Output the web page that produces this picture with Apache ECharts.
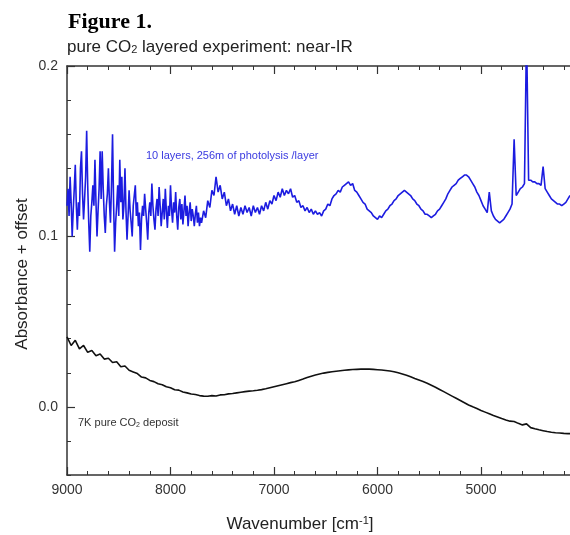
<!DOCTYPE html>
<html>
<head>
<meta charset="utf-8">
<script src="https://cdn.jsdelivr.net/npm/echarts@6/dist/echarts.min.js"></script>
<style>
  html, body { margin: 0; padding: 0; background: #fff; }
  #chart { width: 570px; height: 535px; }
</style>
</head>
<body>
<div id="chart"></div>
<script>
// ---- data ----
// wavenumber sampling of each trace piece: start and spacing (cm^-1)
const noisyStart = 9000, noisyStep = 10;     // blue trace, 9000..7700
const smoothStart = 7680, smoothStep = 20;   // blue trace, 7680..4140
const depositStart = 9000, depositStep = 40; // black trace

// blue trace (10 layers, 256m of photolysis /layer), noisy short-wave part
const layeredNoisyAbs = [
  0.118,0.128,0.112,0.135,0.120,0.100,0.115,0.128,0.142,0.118,
  0.104,0.120,0.112,0.140,0.150,0.125,0.110,0.122,0.135,0.162,
  0.130,0.108,0.091,0.112,0.120,0.130,0.118,0.145,0.120,0.100,
  0.115,0.128,0.150,0.122,0.150,0.128,0.112,0.102,0.118,0.125,
  0.140,0.120,0.108,0.130,0.160,0.120,0.091,0.108,0.118,0.130,
  0.112,0.145,0.120,0.135,0.110,0.118,0.140,0.115,0.098,0.112,
  0.127,0.115,0.108,0.100,0.118,0.124,0.130,0.112,0.120,0.106,
  0.114,0.092,0.110,0.118,0.112,0.125,0.116,0.108,0.098,0.114,
  0.120,0.112,0.131,0.118,0.110,0.104,0.116,0.122,0.112,0.129,
  0.118,0.106,0.114,0.122,0.110,0.128,0.115,0.105,0.118,0.112,
  0.130,0.116,0.108,0.120,0.114,0.126,0.112,0.104,0.117,0.122,
  0.110,0.119,0.107,0.115,0.124,0.112,0.118,0.106,0.114,0.120,
  0.109,0.116,0.112,0.106,0.113,0.118,0.108,0.114,0.106,0.111,
  0.108
];

// blue trace, smoother long-wave part with interference fringes and sharp bands
const layeredSmoothAbs = [
  0.115,0.111,0.121,0.117,0.127,0.124,0.135,0.126,0.130,0.122,
  0.126,0.118,0.122,0.115,0.119,0.113,0.118,0.112,0.117,0.113,
  0.118,0.114,0.117,0.112,0.118,0.114,0.117,0.113,0.118,0.115,
  0.120,0.116,0.121,0.119,0.124,0.121,0.126,0.123,0.128,0.124,
  0.127,0.125,0.128,0.123,0.124,0.120,0.121,0.117,0.118,0.115,
  0.117,0.114,0.116,0.113,0.115,0.113,0.114,0.112,0.115,0.116,
  0.119,0.118,0.122,0.124,0.125,0.127,0.126,0.129,0.130,0.131,
  0.132,0.130,0.131,0.127,0.126,0.124,0.122,0.120,0.119,0.116,
  0.115,0.114,0.112,0.111,0.110,0.112,0.111,0.113,0.115,0.116,
  0.118,0.119,0.121,0.122,0.124,0.125,0.126,0.127,0.126,0.125,
  0.124,0.122,0.121,0.119,0.118,0.116,0.115,0.113,0.113,0.112,
  0.111,0.112,0.113,0.115,0.116,0.118,0.120,0.122,0.125,0.127,
  0.129,0.130,0.131,0.133,0.134,0.135,0.136,0.136,0.135,0.133,
  0.131,0.129,0.126,0.124,0.121,0.118,0.116,0.114,0.126,0.115,
  0.112,0.110,0.109,0.108,0.109,0.110,0.112,0.114,0.116,0.119,
  0.157,0.124,0.126,0.128,0.129,0.131,0.220,0.133,0.133,0.132,
  0.132,0.131,0.131,0.130,0.141,0.128,0.126,0.124,0.122,0.121,
  0.120,0.119,0.119,0.118,0.119,0.120,0.122,0.124
];

// black trace: 7K pure CO2 deposit
const depositAbs = [
  0.041,0.036,0.039,0.034,0.036,0.032,0.033,0.030,0.031,0.028,
  0.0285,0.026,0.0265,0.0235,0.024,0.0215,0.0205,0.0195,0.0175,0.0170,
  0.0155,0.0148,0.0135,0.0130,0.0118,0.0112,0.0100,0.0098,0.0087,0.0082,
  0.0075,0.0072,0.0066,0.0063,0.0062,0.0066,0.0064,0.0070,0.0071,0.0076,
  0.0078,0.0082,0.0086,0.0089,0.0092,0.0094,0.0097,0.0101,0.0106,0.0112,
  0.0118,0.0124,0.0130,0.0136,0.0142,0.0147,0.0155,0.0163,0.0172,0.0180,
  0.0187,0.0193,0.0198,0.0202,0.0206,0.0209,0.0212,0.0215,0.0217,0.0219,
  0.0220,0.0221,0.0221,0.0221,0.0220,0.0218,0.0216,0.0213,0.0210,0.0206,
  0.0200,0.0193,0.0185,0.0176,0.0166,0.0157,0.0148,0.0138,0.0127,0.0115,
  0.0102,0.0089,0.0076,0.0063,0.0050,0.0037,0.0024,0.0011,0.0000,-0.0010,
  -0.0021,-0.0031,-0.0041,-0.0051,-0.0060,-0.0069,-0.0077,-0.0084,-0.0086,-0.0097,
  -0.0106,-0.0100,-0.0122,-0.0129,-0.0135,-0.0140,-0.0145,-0.0149,-0.0152,-0.0154,
  -0.0156,-0.0157,-0.0158
];

// axis ticks
const xMajorTicks = [9000, 8000, 7000, 6000, 5000];
const yLabelTicks = [0.0, 0.1, 0.2];

// ---- chart ----
const layeredData = layeredNoisyAbs.map((v, i) => [noisyStart - noisyStep * i, v])
  .concat(layeredSmoothAbs.map((v, i) => [smoothStart - smoothStep * i, v]));
const depositData = depositAbs.map((v, i) => [depositStart - depositStep * i, v]);

const FONT = "'Liberation Sans', Arial, sans-serif";
const AX = '#333';

const chart = echarts.init(document.getElementById('chart'), null, { renderer: 'canvas' });

const xBase = {
  type: 'value', min: 4000, max: 9000, interval: 1000, inverse: true,
  axisLine: { show: true, onZero: false, lineStyle: { color: AX, width: 1.5 } },
  axisTick: { show: true, inside: true, length: 8, lineStyle: { color: AX, width: 1.2 } },
  minorTick: { show: true, splitNumber: 5, length: 4, lineStyle: { color: AX, width: 1 } },
  splitLine: { show: false }, minorSplitLine: { show: false }
};

chart.setOption({
  animation: false,
  backgroundColor: '#fff',
  grid: { left: 67, top: 66, width: 517.5, bottom: 60, containLabel: false, outerBoundsMode: 'none' },
  xAxis: [
    Object.assign({}, xBase, {
      position: 'bottom',
      axisLabel: {
        color: AX, fontSize: 14, fontFamily: FONT, margin: 8,
        formatter: v => (xMajorTicks.indexOf(v) >= 0 ? String(v) : '')
      }
    }),
    Object.assign({}, xBase, { position: 'top', axisLabel: { show: false } })
  ],
  yAxis: [
    {
      type: 'value', min: -0.04, max: 0.2, interval: 0.02,
      axisLine: { show: true, onZero: false, lineStyle: { color: AX, width: 1.5 } },
      axisTick: { show: true, inside: true, length: 4, lineStyle: { color: AX, width: 1 } },
      axisLabel: {
        color: AX, fontSize: 14, fontFamily: FONT, margin: 9,
        formatter: v => {
          const hit = yLabelTicks.find(t => Math.abs(t - v) < 1e-6);
          return hit === undefined ? '' : hit.toFixed(1);
        }
      },
      splitLine: { show: false }
    },
    {
      type: 'value', min: -0.04, max: 0.2, interval: 0.02, position: 'left',
      axisLine: { show: false },
      axisTick: { show: true, inside: true, length: 8, customValues: yLabelTicks, lineStyle: { color: AX, width: 1.2 } },
      axisLabel: { show: false },
      splitLine: { show: false }
    }
  ],
  series: [
    {
      name: '10 layers, 256m of photolysis /layer', type: 'line',
      xAxisIndex: 0, yAxisIndex: 0, data: layeredData,
      showSymbol: false, clip: true,
      lineStyle: { color: '#1c1ce0', width: 1.6 }
    },
    {
      name: '7K pure CO2 deposit', type: 'line',
      xAxisIndex: 0, yAxisIndex: 0, data: depositData,
      showSymbol: false, clip: true,
      lineStyle: { color: '#111', width: 1.6 }
    }
  ],
  graphic: [
    {
      type: 'text', x: 68, y: 22,
      style: { text: 'Figure 1.', font: "bold 22px 'Liberation Serif', 'Times New Roman', serif", fill: '#000', align: 'left', verticalAlign: 'middle' }
    },
    {
      type: 'text', x: 67, y: 47,
      style: {
        text: 'pure CO{sub|2} layered experiment: near-IR',
        font: '17px ' + FONT, fill: '#222', align: 'left', verticalAlign: 'middle',
        rich: { sub: { font: '11px ' + FONT, fill: '#222', verticalAlign: 'bottom', lineHeight: 2 } }
      }
    },
    {
      type: 'text', x: 146, y: 156,
      style: { text: '10 layers, 256m of photolysis /layer', font: '11px ' + FONT, fill: '#3a3ae0', align: 'left', verticalAlign: 'middle' }
    },
    {
      type: 'text', x: 78, y: 423,
      style: {
        text: '7K pure CO{sub|2} deposit', font: '11px ' + FONT, fill: '#333', align: 'left', verticalAlign: 'middle',
        rich: { sub: { font: '7px ' + FONT, fill: '#333', verticalAlign: 'bottom', lineHeight: 2 } }
      }
    },
    {
      type: 'text', x: 300, y: 524,
      style: {
        text: 'Wavenumber [cm{sup|-1}]', font: '17px ' + FONT, fill: '#222', align: 'center', verticalAlign: 'middle',
        rich: { sup: { font: '11px ' + FONT, fill: '#222', verticalAlign: 'top', lineHeight: 10 } }
      }
    },
    {
      type: 'text', x: 22, y: 274, rotation: Math.PI / 2,
      style: { text: 'Absorbance + offset', font: '17px ' + FONT, fill: '#222', align: 'center', verticalAlign: 'middle' }
    }
  ]
});
</script>
</body>
</html>
